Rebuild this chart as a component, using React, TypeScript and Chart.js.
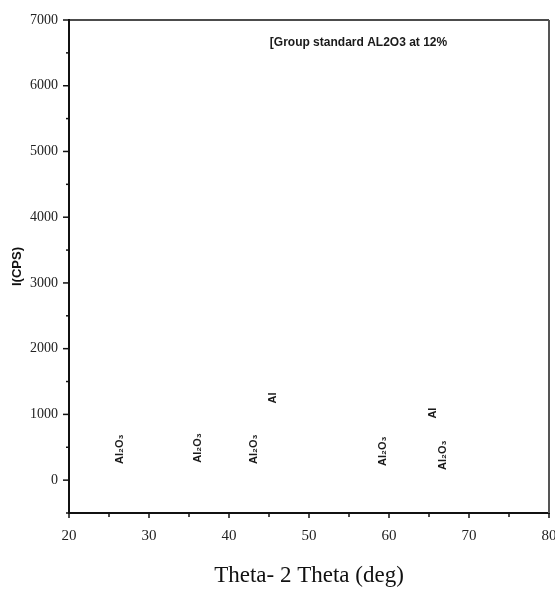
import { useEffect, useRef } from "react";
import { Chart, registerables } from "chart.js";

Chart.register(...registerables);

// Peak annotations (2θ in degrees, intensity in CPS)
const peakAngles = [26.4, 36.1, 43.1, 45.5, 59.25, 65.5, 66.75];
const peakHeights = [470, 490, 470, 1250, 440, 1020, 380];
const peakLabels = ["Al₂O₃", "Al₂O₃", "Al₂O₃", "Al", "Al₂O₃", "Al", "Al₂O₃"];

const noteText = "[Group standard AL2O3 at 12%";
const noteAngle = 45.1;
const noteLevel = 6660;

const xMin = 20;
const xMax = 80;
const xStep = 5;
const xLabelEvery = 10;
const yMin = -500;
const yMax = 7000;
const yStep = 500;
const yLabelEvery = 1000;

const xTitle = "Theta- 2 Theta (deg)";
const yTitle = "I(CPS)";

const CANVAS_W = 580;
const CANVAS_H = 590;

const framePlugin = {
  id: "frameAndTicks",
  afterDraw(chart: any) {
    const { ctx, chartArea } = chart;
    const xs = chart.scales.x;
    const ys = chart.scales.y;
    ctx.save();
    ctx.strokeStyle = "#111";
    ctx.lineWidth = 1.6;
    ctx.beginPath();
    ctx.moveTo(chartArea.left, chartArea.top);
    ctx.lineTo(chartArea.right, chartArea.top);
    ctx.stroke();
    ctx.strokeStyle = "#555";
    ctx.lineWidth = 2;
    ctx.beginPath();
    ctx.moveTo(chartArea.right, chartArea.top);
    ctx.lineTo(chartArea.right, chartArea.bottom);
    ctx.stroke();
    ctx.strokeStyle = "#111";
    ctx.lineWidth = 1.5;
    for (const t of xs.ticks) {
      const px = xs.getPixelForValue(t.value);
      const major = t.value % xLabelEvery === 0;
      ctx.beginPath();
      ctx.moveTo(px, chartArea.bottom);
      ctx.lineTo(px, chartArea.bottom + (major ? 5 : 4));
      ctx.stroke();
    }
    for (const t of ys.ticks) {
      const py = ys.getPixelForValue(t.value);
      const major = t.value % yLabelEvery === 0;
      ctx.beginPath();
      ctx.moveTo(chartArea.left, py);
      ctx.lineTo(chartArea.left - (major ? 6 : 3), py);
      ctx.stroke();
    }
    ctx.restore();
  },
  afterDatasetsDraw(chart: any) {
    const { ctx } = chart;
    const meta = chart.getDatasetMeta(0);
    ctx.save();
    ctx.fillStyle = "#1a1a1a";
    ctx.font = "bold 11px 'Liberation Sans', Arial, sans-serif";
    ctx.textAlign = "center";
    ctx.textBaseline = "middle";
    meta.data.forEach((el: any, i: number) => {
      ctx.save();
      ctx.translate(el.x, el.y);
      ctx.rotate(-Math.PI / 2);
      ctx.fillText(peakLabels[i], 0, 0);
      ctx.restore();
    });
    ctx.font = "bold 12px 'Liberation Sans', Arial, sans-serif";
    ctx.textAlign = "left";
    ctx.fillText(
      noteText,
      chart.scales.x.getPixelForValue(noteAngle),
      chart.scales.y.getPixelForValue(noteLevel)
    );
    ctx.restore();
  },
};

export default function App() {
  const ref = useRef<HTMLCanvasElement | null>(null);
  useEffect(() => {
    if (!ref.current) return;
    const chart = new Chart(ref.current, {
      type: "scatter",
      data: {
        datasets: [
          {
            label: "peaks",
            data: peakAngles.map((a, i) => ({ x: a, y: peakHeights[i] })),
            pointRadius: 0,
            pointHoverRadius: 0,
            showLine: false,
          },
        ],
      },
      options: {
        responsive: false,
        animation: false,
        devicePixelRatio: 1,
        layout: { padding: { top: 20, right: CANVAS_W - 549, left: 0, bottom: 0 } },
        plugins: {
          legend: { display: false },
          tooltip: { enabled: false },
          title: { display: false },
        },
        scales: {
          x: {
            type: "linear",
            min: xMin,
            max: xMax,
            grid: { display: false, drawTicks: false },
            border: { display: true, color: "#111", width: 2 },
            ticks: {
              stepSize: xStep,
              autoSkip: false,
              maxRotation: 0,
              padding: 14,
              color: "#222",
              font: { family: "'Liberation Serif', 'Times New Roman', serif", size: 15 },
              callback: (v: any) => (Number(v) % xLabelEvery === 0 ? String(v) : ""),
            },
            title: {
              display: true,
              text: xTitle,
              color: "#111",
              font: { family: "'Liberation Serif', 'Times New Roman', serif", size: 23 },
              padding: { top: 0, bottom: 0 },
            },
            afterFit: (s: any) => {
              s.height = 77;
            },
          },
          y: {
            type: "linear",
            min: yMin,
            max: yMax,
            grid: { display: false, drawTicks: false },
            border: { display: true, color: "#111", width: 2 },
            ticks: {
              stepSize: yStep,
              autoSkip: false,
              padding: 11,
              color: "#222",
              font: { family: "'Liberation Serif', 'Times New Roman', serif", size: 14 },
              callback: (v: any) =>
                Number(v) % yLabelEvery === 0 && Number(v) >= 0 ? String(v) : "",
            },
            title: {
              display: true,
              text: yTitle,
              color: "#111",
              font: { family: "'Liberation Sans', Arial, sans-serif", size: 13, weight: "bold" },
              padding: { top: 10, bottom: 0 },
            },
            afterFit: (s: any) => {
              s.width = 69;
            },
          },
        },
      },
      plugins: [framePlugin],
    } as any);
    return () => chart.destroy();
  }, []);
  return (
    <div
      style={{
        position: "fixed",
        left: 0,
        top: 0,
        width: 555,
        height: 590,
        overflow: "hidden",
        background: "#fff",
      }}
    >
      <canvas ref={ref} width={CANVAS_W} height={CANVAS_H} style={{ display: "block" }} />
    </div>
  );
}
